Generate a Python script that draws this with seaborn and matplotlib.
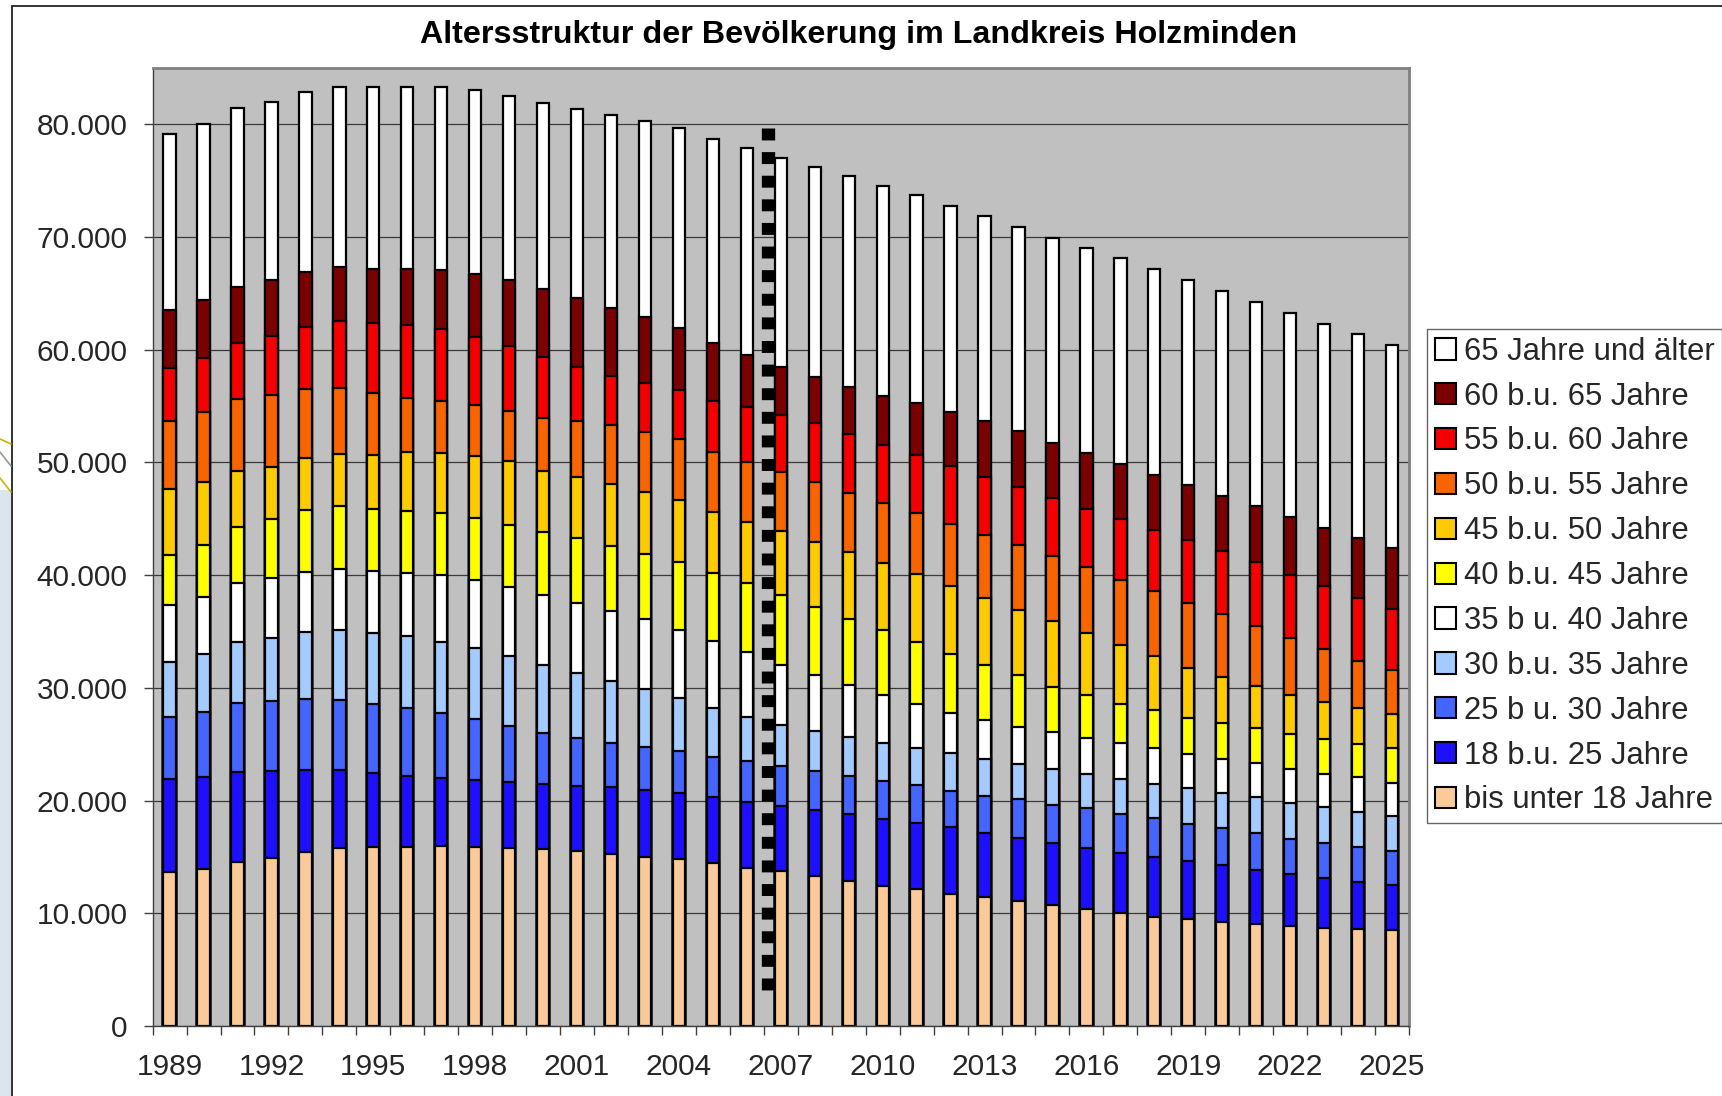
import matplotlib
matplotlib.use("Agg")
import matplotlib.pyplot as plt
import seaborn as sns
import pandas as pd
import numpy as np
from matplotlib.patches import Patch, Rectangle
from matplotlib.lines import Line2D
from matplotlib.ticker import FuncFormatter

# ---------------- data ----------------
years = list(range(1989, 2026))

bis18 = [13660, 13960, 14510, 14940, 15400, 15790, 15890, 15890, 15980, 15890, 15790, 15700,
         15490, 15280, 15030, 14820, 14480, 14060, 13720, 13290, 12900, 12440, 12140, 11740,
         11430, 11130, 10760, 10370, 10060, 9640, 9450, 9240, 9030, 8840, 8720, 8630, 8480]
a18_25 = [8230, 8140, 8050, 7680, 7320, 6920, 6530, 6310, 6040, 5950, 5850, 5730,
          5790, 5920, 5950, 5850, 5820, 5850, 5790, 5850, 5890, 5950, 5890, 5930,
          5730, 5580, 5490, 5430, 5270, 5340, 5180, 5030, 4850, 4670, 4420, 4180, 4030]
a25_30 = [5490, 5760, 6100, 6220, 6310, 6250, 6190, 6010, 5760, 5430, 5000, 4570,
          4270, 3900, 3750, 3750, 3570, 3600, 3600, 3510, 3420, 3350, 3350, 3190,
          3260, 3450, 3350, 3510, 3510, 3480, 3290, 3260, 3200, 3110, 3110, 3080, 3050]
a30_35 = [4940, 5150, 5370, 5550, 5890, 6160, 6250, 6400, 6310, 6280, 6160, 6040,
          5790, 5550, 5180, 4700, 4330, 3930, 3570, 3510, 3450, 3350, 3320, 3360,
          3290, 3110, 3200, 3050, 3050, 3050, 3200, 3140, 3230, 3140, 3200, 3110, 3050]
a35_40 = [5060, 5030, 5240, 5340, 5400, 5430, 5490, 5580, 5920, 6040, 6160, 6160,
          6220, 6130, 6160, 6040, 5950, 5730, 5370, 4940, 4640, 4270, 3900, 3570,
          3420, 3290, 3260, 3200, 3200, 3140, 3050, 3050, 3020, 3050, 2900, 3050, 2990]
a40_45 = [4450, 4650, 5030, 5210, 5470, 5550, 5480, 5540, 5480, 5520, 5530, 5640,
          5710, 5840, 5850, 6040, 6040, 6100, 6160, 6040, 5850, 5790, 5490, 5250,
          4880, 4540, 4060, 3810, 3510, 3350, 3200, 3200, 3080, 3140, 3140, 2990, 3050]
a45_50 = [5860, 5550, 4930, 4670, 4570, 4610, 4830, 5190, 5370, 5460, 5610, 5390,
          5450, 5490, 5470, 5430, 5390, 5460, 5670, 5830, 5920, 5950, 6040, 6020,
          5980, 5790, 5790, 5490, 5180, 4820, 4420, 4020, 3720, 3420, 3260, 3170, 3050]
a50_55 = [5980, 6240, 6390, 6360, 6130, 5920, 5530, 4820, 4590, 4530, 4440, 4740,
          5000, 5180, 5330, 5420, 5340, 5300, 5300, 5280, 5250, 5280, 5360, 5510,
          5550, 5760, 5810, 5900, 5790, 5790, 5700, 5580, 5340, 5030, 4670, 4210, 3870]
a55_60 = [4730, 4790, 5000, 5240, 5560, 5920, 6160, 6450, 6360, 6070, 5770, 5420,
          4730, 4380, 4350, 4380, 4530, 4880, 5030, 5210, 5240, 5150, 5140, 5080,
          5170, 5150, 5120, 5150, 5390, 5440, 5610, 5620, 5730, 5640, 5640, 5550, 5430]
a60_65 = [5120, 5150, 4940, 4940, 4880, 4820, 4790, 4940, 5240, 5530, 5860, 6040,
          6160, 6070, 5860, 5530, 5180, 4590, 4290, 4140, 4170, 4350, 4680, 4840,
          4940, 4970, 4880, 4890, 4900, 4880, 4860, 4910, 4920, 5110, 5170, 5360, 5370]
a65plus = [15590, 15650, 15860, 15830, 15950, 15980, 16130, 16220, 16280, 16330, 16330, 16450,
           16780, 17100, 17370, 17750, 18050, 18410, 18520, 18640, 18700, 18640, 18400, 18310,
           18200, 18150, 18200, 18260, 18260, 18200, 18200, 18150, 18150, 18140, 18100, 18030, 18060]

group_labels = ["bis unter 18 Jahre", "18 b.u. 25 Jahre", "25 b u. 30 Jahre", "30 b.u. 35 Jahre",
                "35 b u. 40 Jahre", "40 b.u. 45 Jahre", "45 b.u. 50 Jahre", "50 b.u. 55 Jahre",
                "55 b.u. 60 Jahre", "60 b.u. 65 Jahre", "65 Jahre und älter"]
series = [bis18, a18_25, a25_30, a30_35, a35_40, a40_45, a45_50, a50_55, a55_60, a60_65, a65plus]
colors = ["#FACB98", "#1E10FF", "#4466FF", "#A3CBFF", "#FFFFFF", "#FFFF00",
          "#FCCB00", "#F86400", "#F50000", "#7B0000", "#FFFFFF"]

title = "Altersstruktur der Bevölkerung im Landkreis Holzminden"

# ---------------- style ----------------
sns.set_style("white")
plt.rcParams['font.family'] = ['Liberation Sans', 'DejaVu Sans']
plt.rcParams['lines.scale_dashes'] = False

W, H = 1722, 1096
fig = plt.figure(figsize=(W / 100, H / 100), dpi=100)
fig.patch.set_facecolor("white")

# decorative slide background at the left edge and outer chart frame
fig.add_artist(Rectangle((0, 0), 10.5 / W, (H - 490) / H, transform=fig.transFigure,
                         facecolor="#DCE4EE", edgecolor="none", zorder=0))
for (y0, y1, c) in [(439, 444, "#C8B400"), (452, 466, "#9A9A8A"), (478, 492, "#C8B400")]:
    fig.add_artist(Line2D([0, 11 / W], [1 - y0 / H, 1 - y1 / H], transform=fig.transFigure,
                          color=c, lw=1.2))
fig.add_artist(Rectangle((11.5 / W, -0.02), 1.0, 1.02 - 5.7 / H, transform=fig.transFigure,
                         fill=False, edgecolor="#222222", lw=1.3, zorder=1))

left, right, top, bottom = 152.6, 1409.0, 68.0, 1026.0
ax = fig.add_axes([left / W, 1 - bottom / H, (right - left) / W, (bottom - top) / H])
ax.set_facecolor("#C0C0C0")

df = pd.DataFrame({"Jahr": [str(y) for y in years]})
for name, vals in zip(group_labels, series):
    df[name] = vals
cum = df[group_labels].cumsum(axis=1)
order = [str(y) for y in years]

for i in reversed(range(len(group_labels))):
    sns.barplot(x=df["Jahr"], y=cum[group_labels[i]], order=order, color=colors[i],
                saturation=1, width=0.362, edgecolor="black", linewidth=1.6,
                errorbar=None, ax=ax)

ax.set_xlabel("")
ax.set_ylabel("")
ax.set_xlim(-0.5, len(years) - 0.5)
ax.set_ylim(0, 85000)

# gridlines
ax.set_axisbelow(True)
ax.yaxis.grid(True, color="#3A3A3A", lw=0.9)
ax.xaxis.grid(False)

# dashed separator between observed and projected years
ax.plot([17.61, 17.61], [79700, 2600], color="black", lw=9.6, dashes=(8.6, 8.4),
        dash_capstyle="butt", solid_capstyle="butt", zorder=5)

# ticks
ax.set_yticks(range(0, 80001, 10000))
ax.yaxis.set_major_formatter(FuncFormatter(lambda v, p: f"{int(v):,}".replace(",", ".")))
ax.tick_params(axis="y", which="major", direction="out", length=6.7, width=1,
               color="#404040", pad=11.2, labelsize=21.5, left=True)

ax.set_xticks(range(0, len(years), 3))
ax.set_xticklabels([str(y) for y in years[::3]])
ax.set_xticks(np.arange(-0.5, len(years), 1.0), minor=True)
ax.tick_params(axis="x", which="major", length=0, pad=19.5, labelsize=21.5, bottom=True)
ax.tick_params(axis="x", which="minor", direction="out", length=6.3, width=1,
               color="#404040", bottom=True)

for s in ["left", "bottom"]:
    ax.spines[s].set_color("#404040")
    ax.spines[s].set_linewidth(1.0)
for s in ["top", "right"]:
    ax.spines[s].set_color("#808080")
    ax.spines[s].set_linewidth(2.0)

# title
fig.text(859 / W, 1 - 35.5 / H, title, ha="center", va="center", fontsize=23.2,
         fontweight="bold", color="black")

# legend
handles = [Patch(facecolor=colors[i], edgecolor="black", lw=1.5) for i in reversed(range(len(group_labels)))]
labels = [group_labels[i] for i in reversed(range(len(group_labels)))]
leg = fig.legend(handles, labels, loc="upper left", bbox_to_anchor=(1427 / W, 1 - 329 / H),
                 bbox_transform=fig.transFigure, frameon=True, fancybox=False, borderaxespad=0,
                 fontsize=22.3, handlelength=0.68, handleheight=0.68, handletextpad=0.25,
                 labelspacing=0.48, borderpad=0.25)
leg.get_frame().set_edgecolor("#404040")
leg.get_frame().set_linewidth(1.0)
leg.get_frame().set_facecolor("white")

fig.savefig("out.png", dpi=100)
